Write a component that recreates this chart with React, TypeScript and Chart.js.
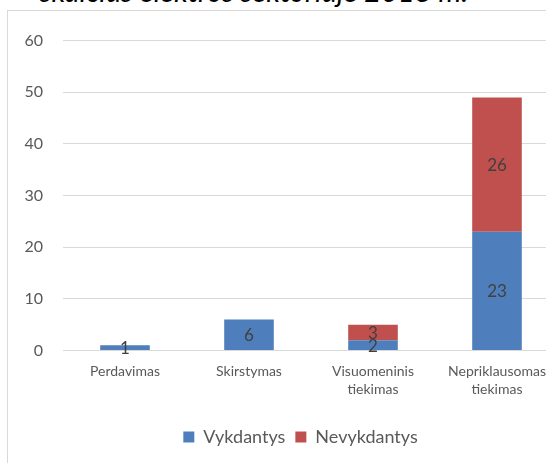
import React, { useEffect, useRef } from "react";
import { Chart, registerables } from "chart.js";

Chart.register(...registerables);

const categories: (string | string[])[] = [
  "Perdavimas",
  "Skirstymas",
  ["Visuomeninis", "tiekimas"],
  ["Nepriklausomas", "tiekimas"],
];
const vykdantys = [1, 6, 2, 23];
const nevykdantys = [0, 0, 3, 26];
const yTicks = [0, 10, 20, 30, 40, 50, 60];
const titleText = "skaičius elektros sektoriuje 2018 m.";

const FONT = "Lato, 'Open Sans', sans-serif";

const valueLabels = {
  id: "valueLabels",
  afterDatasetsDraw(chart: any) {
    const ctx = chart.ctx;
    ctx.save();
    ctx.font = `17px ${FONT}`;
    ctx.fillStyle = "#404040";
    ctx.textAlign = "center";
    ctx.textBaseline = "middle";
    chart.data.datasets.forEach((ds: any, i: number) => {
      const meta = chart.getDatasetMeta(i);
      meta.data.forEach((el: any, j: number) => {
        const v = ds.data[j];
        if (!v) return;
        const { x, y, base } = el.getProps(["x", "y", "base"], true);
        ctx.fillText(String(v), x, (y + base) / 2 + 1);
      });
    });
    ctx.restore();
  },
};

const legendShift = {
  id: "legendShift",
  afterLayout(chart: any) {
    const lg = chart.legend;
    if (lg) {
      lg.left += 17;
      lg.right += 17;
      if (lg.adjustHitBoxes) lg.adjustHitBoxes();
    }
  },
};

export default function App() {
  const ref = useRef<HTMLCanvasElement | null>(null);
  useEffect(() => {
    if (!ref.current) return;
    const chart = new Chart(ref.current, {
      type: "bar",
      data: {
        labels: categories as any,
        datasets: [
          {
            label: "Vykdantys",
            data: vykdantys,
            backgroundColor: "#4e7fbc",
            categoryPercentage: 1,
            barPercentage: 0.4,
          },
          {
            label: "Nevykdantys",
            data: nevykdantys,
            backgroundColor: "#c0504d",
            categoryPercentage: 1,
            barPercentage: 0.4,
          },
        ],
      },
      options: {
        animation: false,
        responsive: false,
        maintainAspectRatio: false,
        layout: { padding: { top: 23, right: 33, bottom: 5, left: 0 } },
        plugins: {
          legend: {
            position: "bottom",
            labels: {
              boxWidth: 11,
              boxHeight: 11,
              padding: 10,
              color: "#595959",
              font: { family: FONT, size: 18 },
            },
          },
          tooltip: { enabled: false },
        },
        scales: {
          x: {
            stacked: true,
            grid: { display: false },
            border: { display: false },
            ticks: {
              color: "#595959",
              font: { family: FONT, size: 14, lineHeight: 1.3 },
              padding: 4,
              maxRotation: 0,
              autoSkip: false,
            },
            afterFit(scale: any) {
              scale.height = 67.5;
            },
          },
          y: {
            stacked: true,
            min: 0,
            max: 60,
            afterBuildTicks(scale: any) {
              scale.ticks = yTicks.map((v) => ({ value: v }));
            },
            grid: { color: "#d9d9d9", drawTicks: false },
            border: { display: false },
            ticks: {
              color: "#595959",
              font: { family: FONT, size: 16 },
              padding: 20,
            },
            afterFit(scale: any) {
              scale.width = 55;
            },
          },
        },
      },
      plugins: [valueLabels, legendShift],
    });
    return () => chart.destroy();
  }, []);

  return (
    <div style={{ position: "fixed", inset: 0, overflow: "hidden", background: "#fff" }}>
      <div
        style={{
          position: "absolute",
          left: 40,
          top: -25,
          fontFamily: FONT,
          fontStyle: "italic",
          fontSize: 29,
          color: "#000",
          whiteSpace: "nowrap",
          lineHeight: "32px",
        }}
      >
        {titleText}
      </div>
      <div
        style={{
          position: "absolute",
          left: 7,
          top: 10,
          width: 620,
          height: 520,
          border: "1px solid #d9d9d9",
          background: "#fff",
        }}
      >
        <canvas ref={ref} width={584} height={450} style={{ display: "block", width: 584, height: 450 }} />
      </div>
    </div>
  );
}
